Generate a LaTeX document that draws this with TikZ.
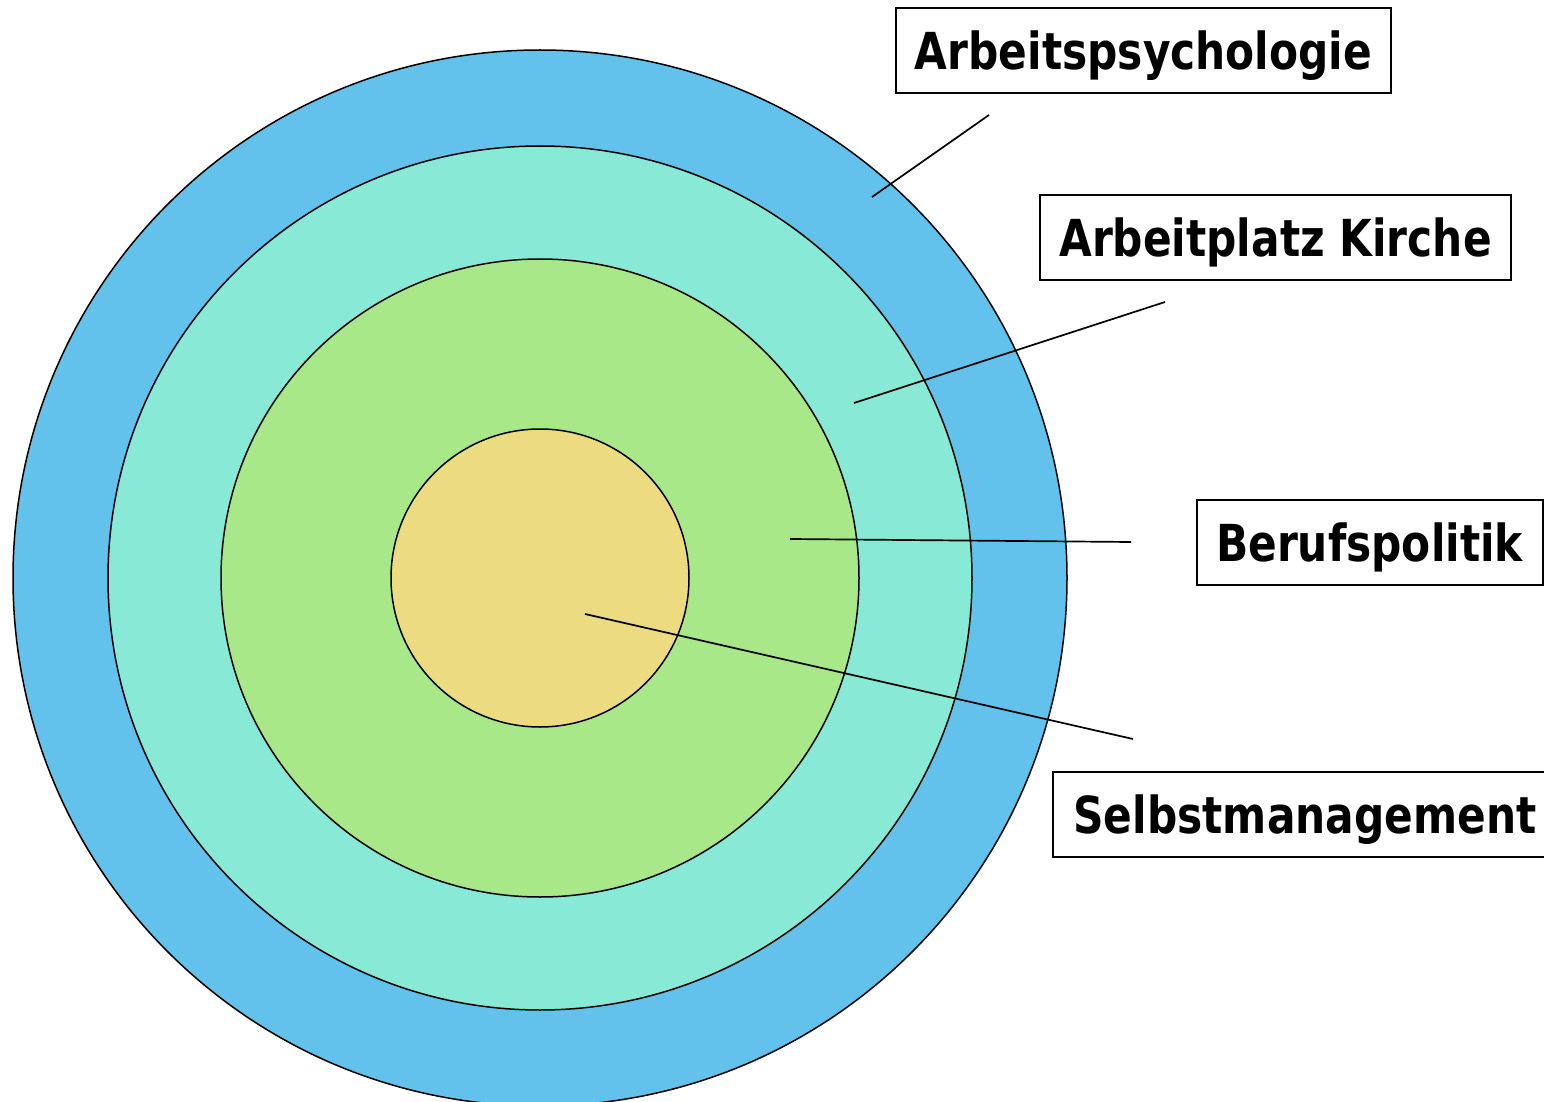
\documentclass[tikz,border=0pt]{standalone}
\usepackage{fontspec}
\newfontfamily\labelfont{DejaVu Sans}[FakeStretch=0.83]
\usetikzlibrary{positioning}
\definecolor{ringblue}{RGB}{98,194,236}
\definecolor{ringteal}{RGB}{136,234,214}
\definecolor{ringgreen}{RGB}{168,232,136}
\definecolor{ringyellow}{RGB}{236,219,128}
\tikzset{
    ring/.style = {draw=black,line width=0.75pt},
    pointer/.style = {draw=black,line width=0.85pt},
    tag/.style = {draw=black,line width=1pt,fill=white,inner sep=0,minimum height=42.5pt,
        text height=23pt,text depth=4pt,
        font=\labelfont\bfseries\fontsize{25.5}{30}\selectfont}
}

\begin{document}
\begin{tikzpicture}[x=0.5pt,y=-0.5pt]
    \useasboundingbox (0,0) rectangle (1544,1102);
    \newcommand\cx{540}
    \newcommand\cy{578}
    % Rings
    \path[ring,fill=ringblue] (\cx,\cy) ellipse [x radius=527, y radius=528];
    \path[ring,fill=ringteal] (\cx,\cy) ellipse [x radius=432, y radius=432];
    \path[ring,fill=ringgreen] (\cx,\cy) ellipse [x radius=319, y radius=319];
    \path[ring,fill=ringyellow] (\cx,\cy) ellipse [x radius=149, y radius=149];
    % Labels
    \node[tag,minimum width=247.5pt] (psy) at (1143.5,51) {Arbeitspsychologie};
    \node[tag,minimum width=235.5pt] (kirche) at (1275.5,237.5) {Arbeitplatz Kirche};
    \node[tag,minimum width=173pt] (beruf) at (1369.5,542) {Berufspolitik};
    \node[tag,minimum width=252pt] (selbst) at (1305,814) {Selbstmanagement};
    % Pointer ends
    \path (989,115) coordinate (psyout)
        (872,197) coordinate (psyin)
        (1165,302) coordinate (kircheout)
        (854,403) coordinate (kirchein)
        (1131,542) coordinate (berufout)
        (790,539) coordinate (berufin)
        (1133,739) coordinate (selbstout)
        (585,614) coordinate (selbstin)
    ;
    % Pointers
    \foreach \src/\dest in {psyout/psyin,kircheout/kirchein,berufout/berufin,selbstout/selbstin}
        \draw[pointer] (\src) to (\dest);
\end{tikzpicture}
\end{document}
